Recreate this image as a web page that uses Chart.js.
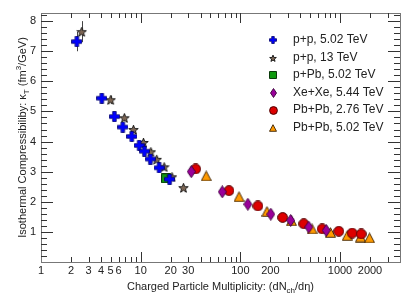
<!DOCTYPE html>
<html>
<head>
<meta charset="utf-8">
<script src="https://cdn.jsdelivr.net/npm/chart.js@4"></script>
<style>
  html, body { margin: 0; padding: 0; background: #fff; }
  #wrap { width: 415px; height: 300px; }
</style>
</head>
<body>
<div id="wrap"><canvas id="c" width="415" height="300"></canvas></div>
<script>
// values
const ppLowX  = [2.29, 4.07, 5.45, 6.62, 8.15, 9.66, 10.9, 12.5, 15.3, 19.5];
const ppLowY  = [7.32, 5.44, 4.83, 4.48, 4.17, 3.87, 3.68, 3.42, 3.13, 2.75];
const ppLowE  = [0.32, 0.12, 0.10, 0.10, 0.08, 0.08, 0.07, 0.07, 0.06, 0.06];

const ppHighX = [2.56, 5.0, 6.87, 8.47, 10.67, 12.65, 14.5, 17.2, 20.6, 26.9];
const ppHighY = [7.65, 5.39, 4.79, 4.40, 3.97, 3.66, 3.41, 3.16, 2.83, 2.47];
const ppHighE = [0.35, 0.14, 0.12, 0.11, 0.10, 0.09, 0.08, 0.08, 0.07, 0.07];

const pPbX = [18.0];
const pPbY = [2.78];
const pPbE = [0.04];

const xexeX = [32.2, 65.9, 119, 202, 320, 486, 727];
const xexeY = [3.00, 2.33, 1.92, 1.59, 1.38, 1.16, 1.05];
const xexeE = [0.08, 0.06, 0.05, 0.05, 0.05, 0.04, 0.04];

const pbpbLowX = [35.6, 76.9, 150, 266, 433, 662, 973, 1325, 1633];
const pbpbLowY = [3.09, 2.37, 1.86, 1.48, 1.27, 1.10, 1.02, 0.96, 0.93];
const pbpbLowE = [0.05, 0.04, 0.04, 0.03, 0.03, 0.03, 0.03, 0.03, 0.03];

const pbpbHighX = [45.5, 97, 185, 326, 525, 803, 1181, 1607, 1978];
const pbpbHighY = [2.86, 2.17, 1.68, 1.37, 1.10, 0.98, 0.88, 0.83, 0.80];
const pbpbHighE = [0.06, 0.05, 0.05, 0.08, 0.05, 0.04, 0.08, 0.06, 0.03];

const seriesNames = ['p+p, 5.02 TeV', 'p+p, 13 TeV', 'p+Pb, 5.02 TeV',
                     'Xe+Xe, 5.44 TeV', 'Pb+Pb, 2.76 TeV', 'Pb+Pb, 5.02 TeV'];

const xTickVals = [1, 2, 3, 4, 5, 6, 10, 20, 30, 100, 200, 1000, 2000];
const yTickVals = [1, 2, 3, 4, 5, 6, 7, 8];

// marker images
function marker(w, h, draw) {
  const c = document.createElement('canvas');
  c.width = w; c.height = h;
  const g = c.getContext('2d');
  draw(g, w, h);
  return c;
}
function poly(g, pts, fill, stroke, lw) {
  g.beginPath();
  pts.forEach(([x, y], i) => i ? g.lineTo(x, y) : g.moveTo(x, y));
  g.closePath();
  g.fillStyle = fill; g.fill();
  g.lineWidth = lw; g.strokeStyle = stroke; g.stroke();
}
const mk = {
  plus: s => marker(s, s, (g) => {
    const a = s * 0.34, b = s * 0.66, e = 0.5, f = s - 0.5;
    poly(g, [[a,e],[b,e],[b,a],[f,a],[f,b],[b,b],[b,f],[a,f],[a,b],[e,b],[e,a],[a,a]], '#0000ff', '#00006a', 0.8);
  }),
  star: s => marker(s, s, (g) => {
    const pts = [], c = s / 2, ro = s / 2 - 0.5, ri = ro * 0.42;
    for (let i = 0; i < 10; i++) {
      const r = i % 2 ? ri : ro, ang = -Math.PI / 2 + i * Math.PI / 5;
      pts.push([c + r * Math.cos(ang), c + 0.6 + r * Math.sin(ang)]);
    }
    poly(g, pts, '#7d6654', '#111', 0.9);
  }),
  square: s => marker(s, s, (g) => {
    poly(g, [[0.5,0.5],[s-0.5,0.5],[s-0.5,s-0.5],[0.5,s-0.5]], '#0f9a0f', '#0a3a0a', 1);
  }),
  diamond: (w, h) => marker(w, h, (g) => {
    poly(g, [[w/2,0.5],[w-0.5,h/2],[w/2,h-0.5],[0.5,h/2]], '#990099', '#3a003a', 0.9);
  }),
  circle: s => marker(s, s, (g) => {
    g.beginPath(); g.arc(s/2, s/2, s/2 - 0.6, 0, Math.PI * 2);
    g.fillStyle = '#dd0000'; g.fill();
    g.lineWidth = 1; g.strokeStyle = '#4a0000'; g.stroke();
  }),
  tri: s => marker(s, s, (g) => {
    poly(g, [[s/2,0.7],[s-0.5,s-0.7],[0.5,s-0.7]], '#ff9a00', '#3a2000', 0.9);
  })
};
const plotStyles = [mk.plus(11), mk.star(11), mk.square(10), mk.diamond(9, 13), mk.circle(11), mk.tri(11)];
const legStyles  = [mk.plus(8), mk.star(8), mk.square(8), mk.diamond(7, 10), mk.circle(9), mk.tri(8)];

const xs = [ppLowX, ppHighX, pPbX, xexeX, pbpbLowX, pbpbHighX];
const ys = [ppLowY, ppHighY, pPbY, xexeY, pbpbLowY, pbpbHighY];
const es = [ppLowE, ppHighE, pPbE, xexeE, pbpbLowE, pbpbHighE];

const datasets = seriesNames.map((name, i) => ({
  label: name,
  data: xs[i].map((x, j) => ({ x, y: ys[i][j], e: es[i][j] })),
  pointStyle: plotStyles[i],
  showLine: false
}));

const FONT = 'Liberation Sans, Arial, sans-serif';
const TXT = '#222';

// frame, inward ticks, error bars, legend, axis titles
const decor = {
  id: 'decor',
  beforeDatasetsDraw(chart) {
    const { ctx, scales: { x, y } } = chart;
    ctx.save();
    ctx.strokeStyle = '#444'; ctx.lineWidth = 1;
    chart.data.datasets.forEach(ds => ds.data.forEach(p => {
      const px = Math.round(x.getPixelForValue(p.x)) + 0.5;
      ctx.beginPath();
      ctx.moveTo(px, y.getPixelForValue(p.y - p.e));
      ctx.lineTo(px, y.getPixelForValue(p.y + p.e));
      ctx.stroke();
    }));
    ctx.restore();
  },
  afterDraw(chart) {
    const { ctx, chartArea: a, scales: { x, y } } = chart;
    ctx.save();
    ctx.strokeStyle = '#777'; ctx.lineWidth = 1;
    ctx.strokeRect(a.left + 0.5, a.top + 0.5, a.right - a.left, a.bottom - a.top);
    ctx.strokeStyle = '#333';
    ctx.beginPath();
    // y ticks every 0.2
    for (let k = 1; k * 0.2 < y.max; k++) {
      const v = k * 0.2, py = Math.round(y.getPixelForValue(v)) + 0.5;
      const len = k % 5 === 0 ? 12 : 6;
      ctx.moveTo(a.left, py); ctx.lineTo(a.left + len, py);
      ctx.moveTo(a.right, py); ctx.lineTo(a.right - len, py);
    }
    // x log ticks
    for (let d = 1; d <= 1000; d *= 10) {
      for (let m = 1; m < 10; m++) {
        const v = d * m;
        if (v <= x.min || v >= x.max) continue;
        const px = Math.round(x.getPixelForValue(v)) + 0.5;
        const len = m === 1 ? 10 : 5;
        ctx.moveTo(px, a.bottom); ctx.lineTo(px, a.bottom - len);
        ctx.moveTo(px, a.top); ctx.lineTo(px, a.top + len);
      }
    }
    ctx.stroke();

    // legend
    ctx.font = '12px ' + FONT;
    ctx.fillStyle = TXT;
    ctx.textBaseline = 'middle';
    seriesNames.forEach((name, i) => {
      const cy = 40 + i * 17.5, img = legStyles[i];
      ctx.drawImage(img, Math.round(273 - img.width / 2), Math.round(cy - img.height / 2));
      ctx.fillText(name, 293, cy);
    });

    // axis titles with sub/superscripts
    const runs = (parts, cx, cy, rot) => {
      const big = '11px ' + FONT, small = '8px ' + FONT;
      let w = 0;
      parts.forEach(p => { ctx.font = p[1] ? small : big; w += ctx.measureText(p[0]).width; });
      ctx.save();
      ctx.translate(cx, cy);
      if (rot) ctx.rotate(-Math.PI / 2);
      ctx.textBaseline = 'alphabetic';
      ctx.textAlign = 'left';
      let xx = -w / 2;
      parts.forEach(p => {
        ctx.font = p[1] ? small : big;
        ctx.fillText(p[0], xx, 4 + (p[1] || 0));
        xx += ctx.measureText(p[0]).width;
      });
      ctx.restore();
    };
    ctx.fillStyle = TXT;
    runs([['Isothermal Compressibiliby: \u03ba'], ['T', 3], [' (fm'], ['3', -5], ['/GeV)']], 22, (a.top + a.bottom) / 2, true);
    runs([['Charged Particle Multiplicity: (dN'], ['ch', 3], ['/d\u03b7)']], (a.left + a.right) / 2, 286, false);
    ctx.restore();
  }
};

new Chart(document.getElementById('c'), {
  type: 'scatter',
  data: { datasets },
  options: {
    responsive: false,
    animation: false,
    layout: { padding: { top: 13, right: 15, left: 0, bottom: 0 } },
    plugins: { legend: { display: false }, tooltip: { enabled: false } },
    elements: { point: { radius: 6 } },
    scales: {
      x: {
        type: 'logarithmic', min: 1, max: 4000,
        afterBuildTicks: s => { s.ticks = xTickVals.map(v => ({ value: v })); },
        afterFit: s => { s.height = 38; },
        grid: { display: false, drawTicks: false },
        border: { display: false },
        ticks: { autoSkip: false, maxRotation: 0, padding: 2, color: TXT,
                 font: { family: FONT, size: 11 }, callback: v => String(v) }
      },
      y: {
        type: 'linear', min: 0, max: 8.27,
        afterBuildTicks: s => { s.ticks = yTickVals.map(v => ({ value: v })); },
        afterFit: s => { s.width = 41; },
        grid: { display: false, drawTicks: false },
        border: { display: false },
        ticks: { padding: 5, color: TXT, font: { family: FONT, size: 11 }, callback: v => String(v) }
      }
    }
  },
  plugins: [decor]
});
</script>
</body>
</html>
